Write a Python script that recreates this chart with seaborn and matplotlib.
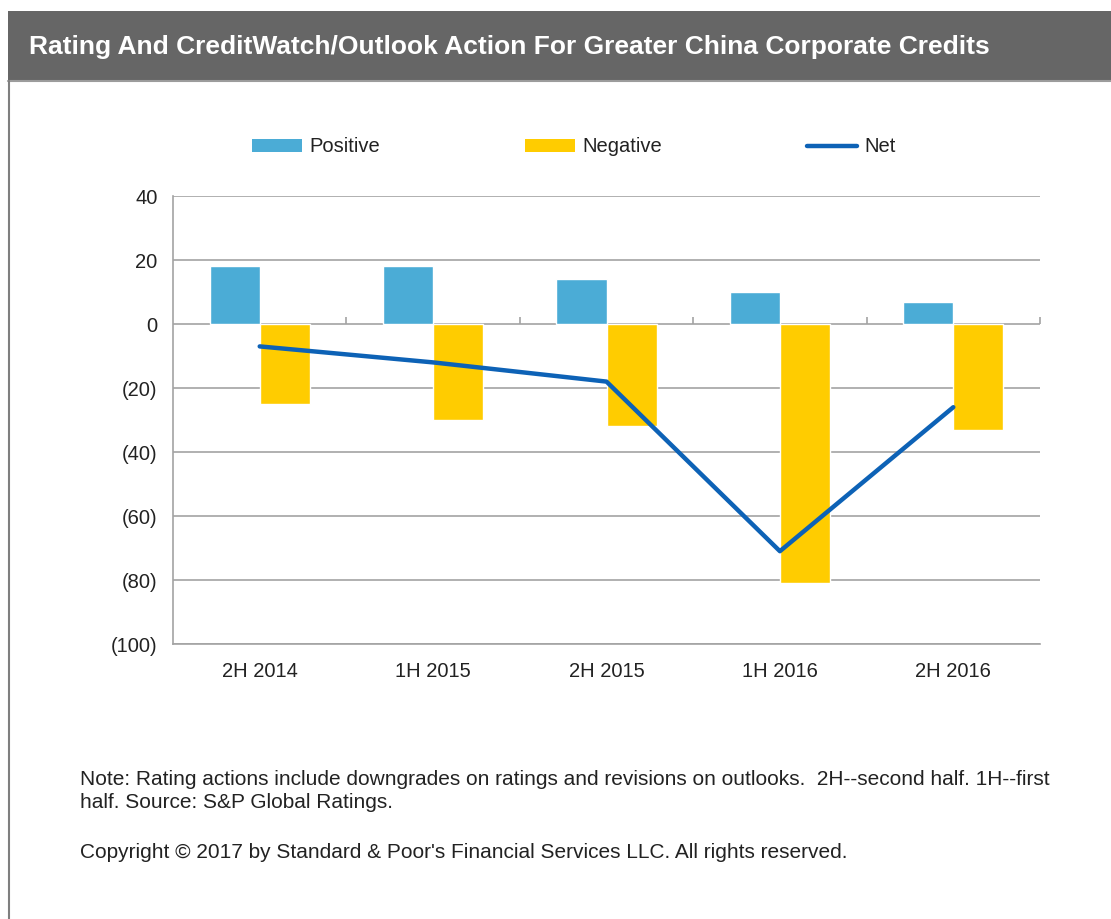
import matplotlib
matplotlib.use("Agg")
import matplotlib.pyplot as plt
from matplotlib.patches import Rectangle, Patch
from matplotlib.lines import Line2D
from matplotlib.ticker import FuncFormatter, MultipleLocator
import numpy as np
import pandas as pd
import seaborn as sns

# Rating actions per half-year
periods = ["2H 2014", "1H 2015", "2H 2015", "1H 2016", "2H 2016"]
positive = [18, 18, 14, 10, 7]
negative = [-25, -30, -32, -81, -33]
net = [-7, -12, -18, -71, -26]

title = "Rating And CreditWatch/Outlook Action For Greater China Corporate Credits"
note = ("Note: Rating actions include downgrades on ratings and revisions on outlooks.  "
        "2H--second half. 1H--first\nhalf. Source: S&P Global Ratings.")
copyright_line = "Copyright \u00a9 2017 by Standard & Poor's Financial Services LLC. All rights reserved."

POS_COLOR = "#4BACD6"
NEG_COLOR = "#FFCC00"
NET_COLOR = "#0D62B6"
GRID_COLOR = "#A3A3A3"
TEXT_COLOR = "#222222"

sns.set_theme(style="white")
plt.rcParams["font.family"] = ["Liberation Sans", "DejaVu Sans"]

W, H = 1111, 919
fig = plt.figure(figsize=(W / 100, H / 100), dpi=100)
fig.patch.set_facecolor("white")

def fx(px):
    return px / W

def fy(py):
    return 1 - py / H

# header band with title
fig.patches.append(Rectangle((fx(8), fy(80)), 1 - fx(8), 69 / H, transform=fig.transFigure,
                             facecolor="#666666", edgecolor="none", zorder=0))
fig.add_artist(Line2D([fx(8), 1], [fy(81), fy(81)], color="#9C9C9C", lw=1.5))
fig.add_artist(Line2D([fx(9), fx(9)], [0, fy(81)], color="#7F7F7F", lw=1.5))
fig.text(fx(29), fy(47), title, color="white", fontsize=19, fontweight="bold",
         ha="left", va="center")

# chart area
ax = fig.add_axes([fx(173), fy(644), fx(1040) - fx(173), (644 - 196) / H])
df = pd.DataFrame({
    "period": periods * 2,
    "kind": ["Positive"] * len(periods) + ["Negative"] * len(periods),
    "value": positive + negative,
})
sns.barplot(data=df, x="period", y="value", hue="kind", order=periods,
            hue_order=["Positive", "Negative"],
            palette={"Positive": POS_COLOR, "Negative": NEG_COLOR},
            width=0.577, saturation=1, errorbar=None, legend=False, ax=ax, zorder=2)
sns.lineplot(x=np.arange(len(periods)), y=net, color=NET_COLOR, lw=3.2,
             sort=False, legend=False, ax=ax, zorder=4)

ax.set_xlim(-0.5, len(periods) - 0.5)
ax.set_ylim(-100, 40)
ax.yaxis.set_major_locator(MultipleLocator(20))
ax.yaxis.set_major_formatter(FuncFormatter(lambda v, _: f"({abs(int(round(v)))})" if v < 0 else f"{int(round(v))}"))
ax.set_xlabel("")
ax.set_ylabel("")
ax.grid(axis="y", color=GRID_COLOR, lw=1.2)
ax.grid(axis="x", visible=False)
ax.set_axisbelow(True)
for side in ("top", "right"):
    ax.spines[side].set_visible(False)
for side in ("left", "bottom"):
    ax.spines[side].set_color(GRID_COLOR)
    ax.spines[side].set_linewidth(1.2)
ax.tick_params(axis="y", length=0, pad=11, labelsize=14.5, labelcolor=TEXT_COLOR)
ax.tick_params(axis="x", length=0, pad=13, labelsize=14.5, labelcolor=TEXT_COLOR)

# category divider ticks hanging from the zero line
zero_frac = (0 - (-100)) / (40 - (-100))
sec = ax.secondary_xaxis(zero_frac)
sec.set_xticks(np.arange(len(periods)) + 0.5)
sec.set_xticklabels([])
sec.tick_params(axis="x", direction="out", length=5, width=1.2, color=GRID_COLOR)
sec.spines["bottom"].set_visible(False)
sec.spines["top"].set_visible(False)

# legend
handles = [
    Patch(facecolor=POS_COLOR, edgecolor="none"),
    Patch(facecolor=NEG_COLOR, edgecolor="none"),
    Line2D([], [], color=NET_COLOR, lw=3.2, solid_capstyle="round"),
]
fig.legend(handles, ["Positive", "Negative", "Net"], loc="center",
           bbox_to_anchor=(fx(574), fy(147)), ncol=3, frameon=False,
           fontsize=14.5, handlelength=2.49, handleheight=0.6,
           columnspacing=7.2, handletextpad=0.35, labelcolor=TEXT_COLOR)

# footer notes
fig.text(fx(80), fy(791), note, fontsize=15, color=TEXT_COLOR, ha="left", va="center",
         linespacing=1.32)
fig.text(fx(80), fy(853), copyright_line, fontsize=15, color=TEXT_COLOR,
         ha="left", va="center")

fig.savefig("out.png", dpi=100)
